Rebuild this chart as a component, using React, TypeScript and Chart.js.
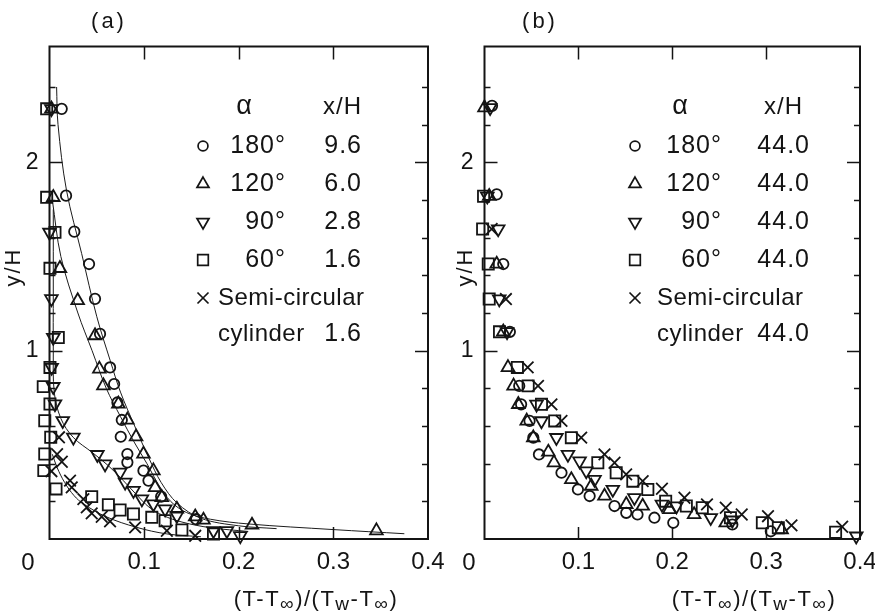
import { useEffect, useRef } from 'react';
import { Chart, registerables } from 'chart.js';

Chart.register(...registerables);

type Pt = [number, number];

const FONT = '"Liberation Sans", "DejaVu Sans", Arial, sans-serif';
const INK = '#141414';

// ---------- panel (a): profiles at different streamwise stations ----------
const a180: Pt[] = [
  [0.0129, 2.284], [0.0175, 1.823], [0.0262, 1.632], [0.0418, 1.46], [0.0481, 1.275],
  [0.0534, 1.089], [0.064, 0.911], [0.0683, 0.823], [0.0718, 0.725], [0.0764, 0.632],
  [0.0753, 0.543], [0.0823, 0.451], [0.0823, 0.407], [0.0993, 0.363], [0.1046, 0.31],
  [0.118, 0.225], [0.155, 0.105],
];
const a120: Pt[] = [
  [0.002, 2.284], [0.004, 1.814], [0.011, 1.437], [0.0298, 1.266], [0.0481, 1.08],
  [0.0527, 0.903], [0.057, 0.814], [0.0728, 0.717], [0.0823, 0.632], [0.0915, 0.543],
  [0.0993, 0.451], [0.1098, 0.363], [0.1116, 0.274], [0.1187, 0.221], [0.1346, 0.159],
  [0.154, 0.118], [0.1627, 0.101], [0.214, 0.074], [0.3455, 0.044],
];
const a90: Pt[] = [
  [0.002, 2.284], [0.0, 1.628], [0.002, 1.275], [0.004, 1.07], [0.0023, 0.911],
  [0.004, 0.809], [0.0058, 0.717], [0.014, 0.628], [0.0252, 0.54], [0.0506, 0.448],
  [0.0587, 0.398], [0.0746, 0.354], [0.0799, 0.301], [0.0887, 0.257], [0.0976, 0.212],
  [0.1098, 0.186], [0.1222, 0.159], [0.1346, 0.124], [0.1733, 0.044], [0.1875, 0.044],
  [0.2016, 0.017],
];
const a60: Pt[] = [
  [-0.003, 2.284], [-0.003, 1.814], [0.0058, 1.628], [0.0005, 1.437], [0.0093, 1.07],
  [0.0005, 0.911], [-0.0066, 0.809], [0.0005, 0.717], [-0.005, 0.628], [0.0013, 0.54],
  [-0.005, 0.451], [-0.006, 0.363], [0.0069, 0.266], [0.0446, 0.225], [0.0622, 0.182],
  [0.0746, 0.154], [0.0887, 0.133], [0.1081, 0.115], [0.1222, 0.097], [0.1399, 0.048],
  [0.1733, 0.027],
];
const aSemi: Pt[] = [
  [0.01, 0.54], [0.008, 0.45], [0.013, 0.41], [0.002, 0.36], [0.0217, 0.31],
  [0.0235, 0.274], [0.0358, 0.212], [0.0394, 0.168], [0.0446, 0.136], [0.0552, 0.118],
  [0.064, 0.094], [0.0905, 0.062], [0.124, 0.044], [0.154, 0.017],
];

// smoothed curves drawn through the panel (a) data
const aFit180: Pt[] = [
  [0.0075, 2.4], [0.009, 2.2], [0.018, 1.85], [0.034, 1.515], [0.05, 1.18], [0.064, 0.95],
  [0.075, 0.78], [0.09, 0.6], [0.105, 0.43], [0.118, 0.3], [0.135, 0.19], [0.16, 0.11],
  [0.2, 0.07], [0.24, 0.055],
];
const aFit120: Pt[] = [
  [0.003, 1.8], [0.012, 1.5], [0.03, 1.2], [0.045, 1.0], [0.06, 0.8], [0.075, 0.65],
  [0.09, 0.51], [0.103, 0.4], [0.115, 0.29], [0.128, 0.2], [0.145, 0.14], [0.17, 0.105],
  [0.21, 0.08], [0.3, 0.05], [0.375, 0.028],
];
const aFit90: Pt[] = [
  [0.004, 1.75], [0.004, 1.3], [0.004, 1.0], [0.005, 0.78], [0.012, 0.64], [0.025, 0.54],
  [0.045, 0.46], [0.062, 0.39], [0.078, 0.31], [0.092, 0.235], [0.105, 0.17], [0.12, 0.125],
  [0.14, 0.09], [0.17, 0.06], [0.21, 0.04],
];
const aFitSemi: Pt[] = [
  [0.003, 0.45], [0.008, 0.38], [0.016, 0.3], [0.026, 0.23], [0.036, 0.186], [0.06, 0.118],
  [0.092, 0.062], [0.124, 0.027], [0.16, 0.012],
];

// ---------- panel (b): all profiles at x/H = 44.0 ----------
const b180: Pt[] = [
  [0.008, 2.3], [0.013, 1.83], [0.02, 1.46], [0.027, 1.1], [0.037, 0.813], [0.039, 0.715],
  [0.048, 0.627], [0.052, 0.538], [0.058, 0.449], [0.082, 0.352], [0.0995, 0.263],
  [0.112, 0.228], [0.1385, 0.175], [0.151, 0.139], [0.163, 0.13], [0.181, 0.113],
  [0.2011, 0.086], [0.264, 0.077], [0.305, 0.041],
];
const b120: Pt[] = [
  [0.0, 2.29], [0.005, 1.82], [0.013, 1.46], [0.02, 1.1], [0.025, 0.911], [0.031, 0.813],
  [0.036, 0.715], [0.045, 0.627], [0.052, 0.538], [0.068, 0.462], [0.074, 0.405],
  [0.0925, 0.316], [0.1137, 0.281], [0.1278, 0.228], [0.151, 0.184], [0.1685, 0.175],
  [0.197, 0.157], [0.2233, 0.13], [0.257, 0.086], [0.3165, 0.05],
];
const b90: Pt[] = [
  [0.006, 2.29], [0.003, 1.82], [0.0146, 1.646], [0.0157, 1.274], [0.024, 1.1],
  [0.0554, 0.715], [0.0607, 0.627], [0.0766, 0.538], [0.0889, 0.449], [0.1013, 0.414],
  [0.1084, 0.361], [0.1172, 0.316], [0.1367, 0.263], [0.1597, 0.219], [0.189, 0.184],
  [0.2045, 0.175], [0.241, 0.113], [0.264, 0.1], [0.396, 0.015],
];
const b60: Pt[] = [
  [-0.001, 1.82], [-0.002, 1.646], [0.004, 1.46], [0.005, 1.274], [0.016, 1.1],
  [0.035, 0.911], [0.0465, 0.813], [0.0607, 0.715], [0.0748, 0.627], [0.0925, 0.538],
  [0.1207, 0.405], [0.1403, 0.352], [0.158, 0.307], [0.174, 0.263], [0.193, 0.201],
  [0.215, 0.175], [0.232, 0.166], [0.262, 0.113], [0.296, 0.086], [0.313, 0.06],
  [0.374, 0.036],
];
const bSemi: Pt[] = [
  [0.0076, 1.646], [0.0228, 1.274], [0.046, 0.911], [0.057, 0.813], [0.0713, 0.715],
  [0.082, 0.627], [0.103, 0.538], [0.1278, 0.449], [0.1385, 0.405], [0.1509, 0.343],
  [0.1685, 0.307], [0.189, 0.267], [0.213, 0.219], [0.237, 0.184], [0.257, 0.166],
  [0.274, 0.13], [0.302, 0.121], [0.327, 0.072], [0.381, 0.065],
];

// legend text
const ALPHA_LABELS = ['180°', '120°', '90°', '60°'];
const XH_A = ['9.6', '6.0', '2.8', '1.6', '1.6'];
const XH_B = ['44.0', '44.0', '44.0', '44.0', '44.0'];

// axis ranges
const X_MAX = 0.4;
const Y_MAX = 2.615;

type Marker = { style: 'circle' | 'triangle' | 'rect' | 'crossRot'; r: number; rot: number };
const MARKERS: Marker[] = [
  { style: 'circle', r: 5.2, rot: 0 },
  { style: 'triangle', r: 7.3, rot: 0 },
  { style: 'triangle', r: 7.3, rot: 180 },
  { style: 'rect', r: 7.9, rot: 0 },
  { style: 'crossRot', r: 8.2, rot: 0 },
];

type Panel = {
  left: number;
  width: number;
  axisWidth: number;
  padRight: number;
  letter: string;
  series: Pt[][];
  fits: Pt[][];
  xh: string[];
  lg: { mx: number; alphaRight: number; alphaHead: number; xhRight: number; xhHeadRight: number; semiLeft: number };
  letterX: number;
  yTitleX: number;
  xTitleX: number;
  zeroX: number;
};

const PANELS: Panel[] = [
  {
    left: 0, width: 460, axisWidth: 49.5, padRight: 32, letter: '(a)',
    series: [a180, a120, a90, a60, aSemi],
    fits: [aFit180, aFit120, aFit90, aFitSemi],
    xh: XH_A,
    lg: { mx: 203, alphaRight: 286, alphaHead: 244, xhRight: 362, xhHeadRight: 362, semiLeft: 218 },
    letterX: 109, yTitleX: 14, xTitleX: 316, zeroX: 28,
  },
  {
    left: 440, width: 435, axisWidth: 44.5, padRight: 15, letter: '(b)',
    series: [b180, b120, b90, b60, bSemi],
    fits: [],
    xh: XH_B,
    lg: { mx: 195, alphaRight: 282, alphaHead: 240, xhRight: 370, xhHeadRight: 363, semiLeft: 217 },
    letterX: 100, yTitleX: 26, xTitleX: 314, zeroX: 29,
  },
];

const ROWS = [146, 184, 222, 260, 298];
const HEAD_Y = 107;
const CYL_Y = 334;

function drawMarker(ctx: CanvasRenderingContext2D, m: Marker, x: number, y: number, scale = 1) {
  const r = m.r * scale;
  ctx.beginPath();
  if (m.style === 'circle') {
    ctx.arc(x, y, r, 0, Math.PI * 2);
  } else if (m.style === 'triangle') {
    let rad = (m.rot * Math.PI) / 180;
    ctx.moveTo(x + Math.sin(rad) * r, y - Math.cos(rad) * r);
    for (let i = 0; i < 2; i++) {
      rad += (2 * Math.PI) / 3;
      ctx.lineTo(x + Math.sin(rad) * r, y - Math.cos(rad) * r);
    }
    ctx.closePath();
  } else if (m.style === 'rect') {
    const s = r * Math.SQRT1_2;
    ctx.rect(x - s, y - s, 2 * s, 2 * s);
  } else {
    const s = r * Math.SQRT1_2;
    ctx.moveTo(x - s, y - s);
    ctx.lineTo(x + s, y + s);
    ctx.moveTo(x - s, y + s);
    ctx.lineTo(x + s, y - s);
  }
  ctx.stroke();
}

type Part = { t: string; sub?: boolean };
const X_TITLE: Part[] = [
  { t: '(T-T' }, { t: '∞', sub: true }, { t: ')/(T' }, { t: 'w', sub: true },
  { t: '-T' }, { t: '∞', sub: true }, { t: ')' },
];

function drawParts(ctx: CanvasRenderingContext2D, parts: Part[], cx: number, baseline: number) {
  const main = `22px ${FONT}`;
  const sub = `19px ${FONT}`;
  (ctx as any).letterSpacing = '1.5px';
  const widths = parts.map((p) => {
    ctx.font = p.sub ? sub : main;
    return ctx.measureText(p.t).width;
  });
  const total = widths.reduce((s, w) => s + w, 0);
  let x = cx - total / 2;
  ctx.textAlign = 'left';
  ctx.textBaseline = 'alphabetic';
  parts.forEach((p, i) => {
    ctx.font = p.sub ? sub : main;
    ctx.fillText(p.t, x, baseline + (p.sub ? 4 : 0));
    x += widths[i];
  });
  (ctx as any).letterSpacing = '0px';
}

function decorPlugin(p: Panel) {
  return {
    id: 'panelDecor',
    afterDraw(chart: Chart) {
      const { ctx, chartArea: ca } = chart;
      const xs: any = chart.scales.x;
      const ys: any = chart.scales.y;
      ctx.save();
      ctx.strokeStyle = INK;
      ctx.fillStyle = INK;
      ctx.lineCap = 'butt';

      // frame
      ctx.lineWidth = 2;
      ctx.strokeRect(ca.left, ca.top, ca.right - ca.left, ca.bottom - ca.top);

      // inward tick marks from the scales' ticks
      ctx.lineWidth = 1.5;
      const seg = (x1: number, y1: number, x2: number, y2: number) => {
        ctx.beginPath();
        ctx.moveTo(x1, y1);
        ctx.lineTo(x2, y2);
        ctx.stroke();
      };
      ys.ticks.forEach((t: any) => {
        const v = t.value;
        if (v <= 0 || v >= Y_MAX - 0.1) return;
        const py = Math.round(ys.getPixelForValue(v)) + 0.5;
        const major = Math.abs(v - Math.round(v)) < 1e-6;
        const len = major ? 13 : 6;
        seg(ca.left, py, ca.left + len, py);
        seg(ca.right, py, ca.right - len, py);
      });
      xs.ticks.forEach((t: any) => {
        const v = t.value;
        if (v <= 0 || v >= X_MAX - 1e-6) return;
        const px = Math.round(xs.getPixelForValue(v)) + 0.5;
        seg(px, ca.bottom, px, ca.bottom - 12);
        seg(px, ca.top, px, ca.top + 13);
      });

      // corner zero of the x axis
      ctx.font = `24px ${FONT}`;
      ctx.textAlign = 'center';
      ctx.textBaseline = 'middle';
      ctx.fillText('0', p.zeroX, 563);

      // panel letter
      ctx.font = `22px ${FONT}`;
      (ctx as any).letterSpacing = '3px';
      ctx.fillText(p.letter, p.letterX, 22);
      (ctx as any).letterSpacing = '0px';

      // y-axis title
      ctx.save();
      ctx.translate(p.yTitleX, 267);
      ctx.rotate(-Math.PI / 2);
      ctx.font = `22px ${FONT}`;
      (ctx as any).letterSpacing = '2px';
      ctx.textAlign = 'center';
      ctx.textBaseline = 'middle';
      ctx.fillText('y/H', 0, 0);
      ctx.restore();

      // x-axis title with subscripts
      drawParts(ctx, X_TITLE, p.xTitleX, 606);

      // legend table
      const lg = p.lg;
      ctx.textBaseline = 'middle';
      ctx.font = `27px ${FONT}`;
      ctx.textAlign = 'center';
      ctx.fillText('α', lg.alphaHead, HEAD_Y);
      ctx.font = `24px ${FONT}`;
      (ctx as any).letterSpacing = '1px';
      ctx.textAlign = 'right';
      ctx.fillText('x/H', lg.xhHeadRight, HEAD_Y);
      ctx.lineWidth = 1.7;
      MARKERS.forEach((m, i) => {
        drawMarker(ctx, m, lg.mx, ROWS[i], 0.95);
      });
      ctx.font = `25px ${FONT}`;
      ALPHA_LABELS.forEach((s, i) => {
        ctx.textAlign = 'right';
        ctx.fillText(s, lg.alphaRight, ROWS[i]);
        ctx.fillText(p.xh[i], lg.xhRight, ROWS[i]);
      });
      ctx.font = `24px ${FONT}`;
      (ctx as any).letterSpacing = '0.5px';
      ctx.textAlign = 'left';
      ctx.fillText('Semi-circular', lg.semiLeft, ROWS[4]);
      ctx.fillText('cylinder', lg.semiLeft, CYL_Y);
      ctx.font = `25px ${FONT}`;
      (ctx as any).letterSpacing = '1px';
      ctx.textAlign = 'right';
      ctx.fillText(p.xh[4], lg.xhRight, CYL_Y);
      (ctx as any).letterSpacing = '0px';
      ctx.restore();
    },
  };
}

const toXY = (pts: Pt[]) => pts.map(([x, y]) => ({ x, y }));

function PanelChart({ panel }: { panel: Panel }) {
  const ref = useRef<HTMLCanvasElement | null>(null);

  useEffect(() => {
    const canvas = ref.current;
    if (!canvas) return;
    const markerSets = panel.series.map((pts, i) => ({
      data: toXY(pts),
      showLine: false,
      pointStyle: MARKERS[i].style,
      pointRadius: MARKERS[i].r,
      pointRotation: MARKERS[i].rot,
      pointBorderColor: INK,
      pointBackgroundColor: 'rgba(0,0,0,0)',
      pointBorderWidth: 1.8,
      clip: false as const,
    }));
    const fitSets = panel.fits.map((pts) => ({
      data: toXY(pts),
      showLine: true,
      pointRadius: 0,
      borderColor: '#1c1c1c',
      borderWidth: 1,
      tension: 0.35,
      fill: false,
    }));

    const chart = new Chart(canvas, {
      type: 'scatter',
      data: { datasets: [...markerSets, ...fitSets] as any },
      options: {
        animation: false,
        responsive: false,
        devicePixelRatio: 1,
        events: [],
        layout: { padding: { top: 46.5, right: panel.padRight, left: 0, bottom: 0 } },
        plugins: { legend: { display: false }, tooltip: { enabled: false }, title: { display: false } },
        scales: {
          x: {
            type: 'linear',
            min: 0,
            max: X_MAX,
            grid: { display: false, drawTicks: false },
            border: { display: false },
            ticks: {
              stepSize: 0.1,
              autoSkip: false,
              maxRotation: 0,
              padding: 9,
              color: INK,
              font: { family: FONT, size: 24 },
              callback: (v: any) => (Math.abs(Number(v)) < 1e-9 ? '' : Number(v).toFixed(1)),
            },
            afterFit: (s: any) => {
              s.height = 613 - 539;
              s.paddingLeft = 0;
              s.paddingRight = 0;
            },
          },
          y: {
            type: 'linear',
            min: 0,
            max: Y_MAX,
            grid: { display: false, drawTicks: false },
            border: { display: false },
            ticks: {
              stepSize: 0.2,
              autoSkip: false,
              padding: 11,
              color: INK,
              font: { family: FONT, size: 23 },
              callback: (v: any) => {
                const n = Number(v);
                if (Math.abs(n - 1) < 1e-6) return '1';
                if (Math.abs(n - 2) < 1e-6) return '2';
                return '';
              },
            },
            afterFit: (s: any) => {
              s.width = panel.axisWidth;
              s.paddingTop = 0;
              s.paddingBottom = 0;
            },
          },
        },
      },
      plugins: [decorPlugin(panel)],
    });
    return () => chart.destroy();
  }, [panel]);

  return (
    <canvas
      ref={ref}
      width={panel.width}
      height={613}
      style={{ position: 'absolute', left: panel.left, top: 0, width: panel.width, height: 613 }}
    />
  );
}

export default function App() {
  return (
    <div style={{ position: 'absolute', left: 0, top: 0, width: 875, height: 613, background: '#fff', overflow: 'hidden' }}>
      {PANELS.map((p) => (
        <PanelChart key={p.letter} panel={p} />
      ))}
    </div>
  );
}
